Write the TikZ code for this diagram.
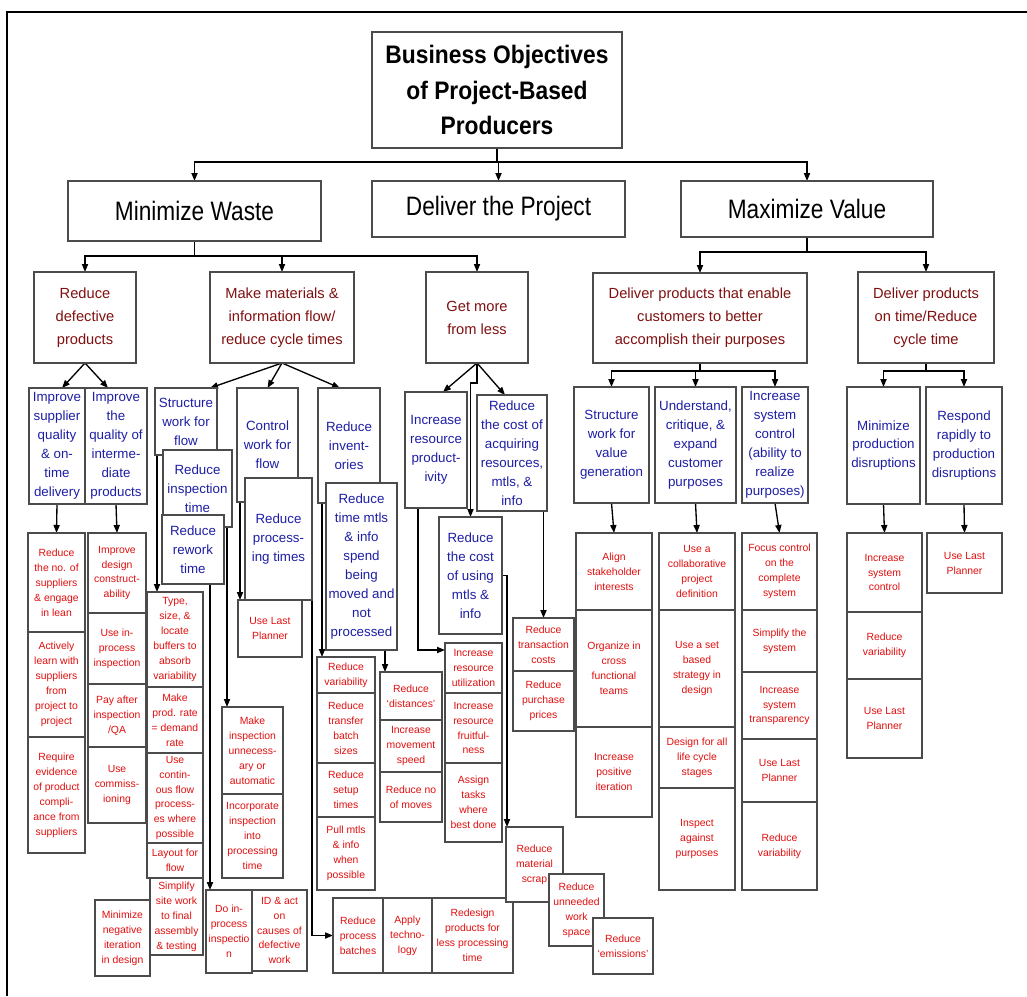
\documentclass[tikz,border=0pt]{standalone}
\usepackage{fontspec}
\setmainfont{Liberation Sans}
\newfontfamily\headfont[FakeStretch=0.85]{Liberation Sans}
\newfontfamily\rootfont[FakeStretch=0.9]{Liberation Sans}
\usetikzlibrary{arrows.meta,calc}
\pgfdeclarelayer{bg}
\pgfsetlayers{bg,main}
\definecolor{goalred}{RGB}{128,16,16}
\definecolor{subblue}{RGB}{30,30,165}
\definecolor{actred}{RGB}{225,15,15}
\definecolor{edgegray}{RGB}{75,75,75}

\tikzset{
  box/.style={draw=edgegray, line width=1pt, fill=white, inner sep=0pt, outer sep=0pt},
  roottxt/.style={font=\rootfont\bfseries\fontsize{19}{26.6}\selectfont, align=center, inner sep=0pt},
  headtxt/.style={font=\headfont\fontsize{20}{24}\selectfont, align=center, inner sep=0pt},
  goaltxt/.style={font=\fontsize{11}{17.2}\selectfont, text=goalred, align=center, inner sep=0pt},
  subtxt/.style={font=\fontsize{10}{14.2}\selectfont, text=subblue, align=center, inner sep=0pt},
  acttxt/.style={font=\fontsize{7.8}{11.2}\selectfont, text=actred, align=center, inner sep=0pt},
  link/.style={draw=black, line width=1pt},
  arr/.style={draw=black, line width=1pt, -{Triangle[length=6pt,width=4.6pt]}},
}

% box: name, x1, y1, x2, y2 (pixel grid, y downwards), text style, text
\newcommand\bx[7]{%
  \pgfmathsetmacro\bxw{(#4-#2)*0.75}%
  \pgfmathsetmacro\bxh{(#5-#3)*0.75}%
  \node[box, minimum width=\bxw pt, minimum height=\bxh pt] (#1) at ({(#2+#4)/2},{(#3+#5)/2}) {};%
  \node[#6] (#1-t) at (#1.center) {#7};%
}

\begin{document}
\begin{tikzpicture}[x=0.75pt,y=-0.75pt]
\begin{pgfonlayer}{bg}
  \fill[white] (0,0) rectangle (1027,996);
\end{pgfonlayer}
\useasboundingbox (0,0) rectangle (1027,996);
\draw[line width=1pt] (1027,12) -- (7,12) -- (7,996);

% top and first level
\bx{root}{372}{32}{622}{148}{roottxt}{Business Objectives\\of Project-Based\\Producers}
\bx{mw}{68}{181}{321}{241}{headtxt}{Minimize Waste}
\bx{dp}{372}{181}{625}{237}{headtxt}{Deliver the Project}
\bx{mv}{681}{181}{933}{237}{headtxt}{Maximize Value}

% second level
\bx{rdp}{34}{272}{136}{363}{goaltxt}{Reduce\\defective\\products}
\bx{mmf}{210}{272}{354}{363}{goaltxt}{Make materials \&\\information flow/\\reduce cycle times}
\bx{gml}{426}{272}{528}{363}{goaltxt}{Get more\\from less}
\bx{dpe}{593}{273}{807}{363}{goaltxt}{Deliver products that enable\\customers to better\\accomplish their purposes}
\bx{dpt}{858}{272}{994}{363}{goaltxt}{Deliver products\\on time/Reduce\\cycle time}

% third level
\bx{isq}{29}{388}{85}{504}{subtxt}{Improve\\supplier\\quality\\\& on-\\time\\delivery}
\bx{iqi}{85}{388}{147}{504}{subtxt}{Improve\\the\\quality of\\interme-\\diate\\products}
\bx{swf}{155}{388}{217}{455}{subtxt}{Structure\\work for\\flow}
\bx{rit}{163}{450}{232}{527}{subtxt}{Reduce\\inspection\\time}
\bx{rrt}{162}{515}{224}{584}{subtxt}{Reduce\\rework\\time}
\bx{cwf}{237}{388}{298}{502}{subtxt}{Control\\work for\\flow}
\bx{rpt}{245}{478}{312}{600}{subtxt}{Reduce\\process-\\ing times}
\bx{rin}{318}{388}{380}{503}{subtxt}{Reduce\\invent-\\ories}
\bx{rtm}{326}{483}{397}{650}{subtxt}{Reduce\\time mtls\\\& info\\spend\\being\\moved and\\not\\processed}
\bx{irp}{405}{392}{467}{508}{subtxt}{Increase\\resource\\product-\\ivity}
\bx{rca}{477}{395}{547}{511}{subtxt}{Reduce\\the cost of\\acquiring\\resources,\\mtls, \&\\info}
\bx{rcu}{439}{517}{502}{634}{subtxt}{Reduce\\the cost\\of using\\mtls \&\\info}
\bx{swv}{574}{387}{649}{503}{subtxt}{Structure\\work for\\value\\generation}
\bx{ucp}{655}{387}{736}{503}{subtxt}{Understand,\\critique, \&\\expand\\customer\\purposes}
\bx{isc}{742}{387}{808}{503}{subtxt}{Increase\\system\\control\\(ability to\\realize\\purposes)}
\bx{mpd}{847}{387}{920}{504}{subtxt}{Minimize\\production\\disruptions}
\bx{rrp}{926}{387}{1002}{504}{subtxt}{Respond\\rapidly to\\production\\disruptions}

% actions: suppliers
\bx{rns}{28}{533}{85}{632}{acttxt}{Reduce\\the no. of\\suppliers\\\& engage\\in lean}
\bx{alw}{28}{632}{85}{737}{acttxt}{Actively\\learn with\\suppliers\\from\\project to\\project}
\bx{rep}{28}{737}{85}{853}{acttxt}{Require\\evidence\\of product\\compli-\\ance from\\suppliers}
% actions: intermediate products
\bx{idc}{88}{533}{146}{613}{acttxt}{Improve\\design\\construct-\\ability}
\bx{uip}{88}{613}{146}{684}{acttxt}{Use in-\\process\\inspection}
\bx{pai}{88}{684}{146}{747}{acttxt}{Pay after\\inspection\\/QA}
\bx{ucm}{88}{747}{146}{823}{acttxt}{Use\\commiss-\\ioning}
% actions: flow structure
\bx{tsb}{147}{592}{203}{687}{acttxt}{Type,\\size, \&\\locate\\buffers to\\absorb\\variability}
\bx{mpr}{147}{687}{203}{753}{acttxt}{Make\\prod. rate\\= demand\\rate}
\bx{ucf}{147}{753}{203}{843}{acttxt}{Use\\contin-\\ous flow\\process-\\es where\\possible}
\bx{lff}{147}{843}{203}{878}{acttxt}{Layout for\\flow}
\bx{ssw}{150}{878}{203}{955}{acttxt}{Simplify\\site work\\to final\\assembly\\\& testing}
\bx{mni}{95}{900}{150}{976}{acttxt}{Minimize\\negative\\iteration\\in design}
% actions: inspection and rework
\bx{mia}{222}{707}{283}{794}{acttxt}{Make\\inspection\\unnecess-\\ary or\\automatic}
\bx{iip}{222}{794}{283}{878}{acttxt}{Incorporate\\inspection\\into\\processing\\time}
\bx{dip}{206}{890}{252}{973}{acttxt}{Do in-\\process\\inspectio\\n}
\bx{idw}{252}{890}{307}{971}{acttxt}{ID \& act\\on\\causes of\\defective\\work}
\bx{ulpa}{238}{600}{302}{657}{acttxt}{Use Last\\Planner}
% actions: inventories
\bx{rvb}{317}{657}{375}{693}{acttxt}{Reduce\\variability}
\bx{rtb}{317}{693}{375}{763}{acttxt}{Reduce\\transfer\\batch\\sizes}
\bx{rst}{317}{763}{375}{817}{acttxt}{Reduce\\setup\\times}
\bx{pmi}{317}{817}{375}{890}{acttxt}{Pull mtls\\\& info\\when\\possible}
\bx{rds}{380}{672}{442}{720}{acttxt}{Reduce\\`distances'}
\bx{ims}{380}{720}{442}{772}{acttxt}{Increase\\movement\\speed}
\bx{rnm}{380}{772}{442}{822}{acttxt}{Reduce no\\of moves}
% actions: resources
\bx{iru}{445}{643}{502}{693}{acttxt}{Increase\\resource\\utilization}
\bx{irf}{445}{693}{502}{763}{acttxt}{Increase\\resource\\fruitful-\\ness}
\bx{atw}{445}{763}{502}{842}{acttxt}{Assign\\tasks\\where\\best done}
\bx{rtc}{513}{618}{574}{671}{acttxt}{Reduce\\transaction\\costs}
\bx{rpp}{513}{671}{574}{731}{acttxt}{Reduce\\purchase\\prices}
% actions: processing
\bx{rpb}{333}{898}{383}{973}{acttxt}{Reduce\\process\\batches}
\bx{atl}{383}{898}{432}{973}{acttxt}{Apply\\techno-\\logy}
\bx{rpl}{432}{898}{513}{973}{acttxt}{Redesign\\products for\\less processing\\time}
\bx{rms}{506}{827}{563}{902}{acttxt}{Reduce\\material\\scrap}
\bx{ruw}{549}{874}{604}{946}{acttxt}{Reduce\\unneeded\\work\\space}
\bx{rem}{593}{918}{653}{974}{acttxt}{Reduce\\`emissions'}
% actions: value
\bx{asi}{576}{533}{652}{610}{acttxt}{Align\\stakeholder\\interests}
\bx{oct}{576}{610}{652}{727}{acttxt}{Organize in\\cross\\functional\\teams}
\bx{ipi}{576}{727}{652}{817}{acttxt}{Increase\\positive\\iteration}
\bx{ucd}{659}{533}{735}{610}{acttxt}{Use a\\collaborative\\project\\definition}
\bx{usb}{659}{610}{735}{727}{acttxt}{Use a set\\based\\strategy in\\design}
\bx{dfl}{659}{727}{735}{788}{acttxt}{Design for all\\life cycle\\stages}
\bx{iap}{659}{788}{735}{890}{acttxt}{Inspect\\against\\purposes}
\bx{fcc}{742}{533}{817}{610}{acttxt}{Focus control\\on the\\complete\\system}
\bx{sts}{742}{610}{817}{672}{acttxt}{Simplify the\\system}
\bx{ist}{742}{672}{817}{739}{acttxt}{Increase\\system\\transparency}
\bx{ulpb}{742}{739}{817}{802}{acttxt}{Use Last\\Planner}
\bx{rvc}{742}{802}{817}{890}{acttxt}{Reduce\\variability}
% actions: on time delivery
\bx{iscb}{847}{533}{922}{612}{acttxt}{Increase\\system\\control}
\bx{rvd}{847}{612}{922}{679}{acttxt}{Reduce\\variability}
\bx{ulpc}{847}{679}{922}{758}{acttxt}{Use Last\\Planner}
\bx{ulpd}{927}{533}{1002}{593}{acttxt}{Use Last\\Planner}

% connectors, kept beneath the boxes
\begin{pgfonlayer}{bg}
  \draw[link] (root.south) -- ++(0,14) coordinate (j0);
  \draw[arr] (j0) -| (mw.north);
  \draw[arr] (j0) -| (dp.north);
  \draw[arr] (j0) -| (mv.north);

  \draw[link] (mw.south) -- ++(0,15) coordinate (j1);
  \draw[arr] (j1) -| (rdp.north);
  \draw[arr] (j1) -| (mmf.north);
  \draw[arr] (j1) -| (gml.north);

  \draw[link] (mv.south) -- ++(0,15) coordinate (j2);
  \draw[arr] (j2) -| (dpe.north);
  \draw[arr] (j2) -| (dpt.north);

  \draw[arr] (rdp.south) -- ($(isq.north)+(5,0)$);
  \draw[arr] (rdp.south) -- ($(iqi.north)+(-8,0)$);
  \draw[arr] (mmf.south) -- ($(swf.north east)+(-7,0)$);
  \draw[arr] (mmf.south) -- (cwf.north);
  \draw[arr] (mmf.south) -- ($(rin.north)+(-9,0)$);
  \draw[arr] (gml.south) -- ($(irp.north)+(7,0)$);
  \draw[arr] (gml.south) -- ($(rca.north)+(-7,0)$);
  \draw[arr] (gml.south) -- ++(0,20) -| (rcu.north);

  \draw[link] (dpe.south) -- ++(0,8) coordinate (j3);
  \draw[arr] (j3) -| (swv.north);
  \draw[arr] (j3) -| (ucp.north);
  \draw[arr] (j3) -| (isc.north);
  \draw[link] (dpt.south) -- ++(0,8) coordinate (j4);
  \draw[arr] (j4) -| (mpd.north);
  \draw[arr] (j4) -| (rrp.north);

  \draw[arr] (isq.south) -- (rns.north);
  \draw[arr] (iqi.south) -- (idc.north);
  \path ($(swf.south west)+(2,0)$) coordinate (t1);
  \draw[arr] (t1) -- (t1 |- tsb.north);
  \path ($(rit.south east)+(-5,0)$) coordinate (t2);
  \draw[arr] (t2) -- (t2 |- mia.north);
  \path ($(rrt.south east)+(-14,0)$) coordinate (t3);
  \draw[arr] (t3) -- (t3 |- dip.north);
  \path ($(cwf.south west)+(3,0)$) coordinate (t4);
  \draw[arr] (t4) -- (t4 |- ulpa.north);
  \draw[arr] (rpt.south east) |- (rpb.west);
  \path ($(rin.south west)+(4,0)$) coordinate (t5);
  \draw[arr] (t5) -- (t5 |- rvb.north);
  \path ($(rtm.south east)+(-12,0)$) coordinate (t6);
  \draw[arr] (t6) -- (t6 |- rds.north);
  \path ($(irp.south west)+(13,0)$) coordinate (t7);
  \draw[arr] (t7) |- ($(iru.north west)+(0,7)$);
  \draw[arr] (rcu.east) -- ++(5,0) coordinate (t8) -- (t8 |- rms.north);
  \draw[arr] (rtc.north |- rca.south) -- (rtc.north);

  \draw[arr] (swv.south) -- (asi.north);
  \draw[arr] (ucp.south) -- (ucd.north);
  \draw[arr] (isc.south) -- (fcc.north);
  \draw[arr] (mpd.south) -- (iscb.north);
  \draw[arr] (rrp.south) -- (ulpd.north);
\end{pgfonlayer}
\end{tikzpicture}
\end{document}
